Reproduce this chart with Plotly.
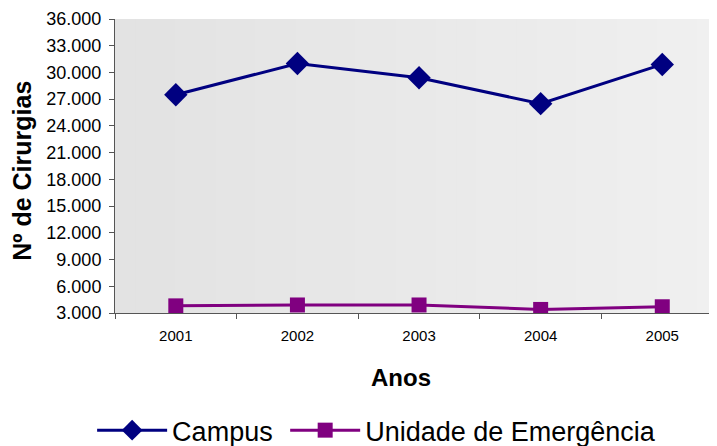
import plotly.graph_objects as go

# data
anos = ["2001", "2002", "2003", "2004", "2005"]
campus = [27500, 31000, 29400, 26500, 30900]
unidade_emergencia = [3800, 3900, 3900, 3400, 3700]

y_ticks = list(range(3000, 36001, 3000))

FONT = "Arial, Liberation Sans, sans-serif"

fig = go.Figure()

# non-breaking space widens the gap between the two legend entries a little
fig.add_trace(go.Scatter(
    x=anos, y=campus, name="Campus\u00a0", mode="lines+markers",
    line=dict(color="#000080", width=3),
    marker=dict(symbol="diamond", size=18, color="#000080"),
))
fig.add_trace(go.Scatter(
    x=anos, y=unidade_emergencia, name="Unidade de Emergência", mode="lines+markers",
    line=dict(color="#800080", width=3),
    marker=dict(symbol="square", size=15, color="#800080"),
))

# light gray gradient behind the plot area
n_steps = 30
for i in range(n_steps):
    t = i / (n_steps - 1)
    c = int(227 + (240 - 227) * t)
    fig.add_shape(
        type="rect", xref="x domain", yref="y domain",
        x0=i / n_steps, x1=(i + 1) / n_steps + 0.002, y0=0, y1=1,
        fillcolor=f"rgb({c},{c},{c})", line_width=0, layer="below",
    )

# axis titles as annotations so they can sit where the original puts them
fig.add_annotation(
    text="<b>Anos</b>", xref="paper", yref="paper", x=0.475, y=-0.221,
    xanchor="center", yanchor="middle", showarrow=False, font=dict(size=24),
)
fig.add_annotation(
    text="<b>Nº de Cirurgias</b>", xref="paper", yref="paper", x=-0.155, y=0.483,
    xanchor="center", yanchor="middle", textangle=-90, showarrow=False,
    font=dict(size=25),
)

# the page adds an 8px body margin, so the figure is sized to fit the window
fig.update_layout(
    width=709, height=438,
    margin=dict(l=107, r=0, t=11, b=133, autoexpand=False),
    paper_bgcolor="white", plot_bgcolor="rgba(0,0,0,0)",
    font=dict(family=FONT, color="black"),
    separators=",.",
    showlegend=True,
    legend=dict(
        orientation="h", x=-0.038, xanchor="left", y=-0.4, yanchor="middle",
        font=dict(size=27), itemwidth=70,
        bgcolor="rgba(0,0,0,0)", tracegroupgap=0,
    ),
)

fig.update_xaxes(
    type="category", range=[-0.5, 4.45], automargin=False,
    showline=True, linecolor="#555", linewidth=1,
    ticks="outside", ticklen=5, tickcolor="#555", tickson="boundaries",
    ticklabelstandoff=9,
    showgrid=False, zeroline=False,
    tickfont=dict(size=15),
)
fig.update_yaxes(
    range=[3000, 36000], tickvals=y_ticks, tickformat=",.0f", automargin=False,
    showline=True, linecolor="#555", linewidth=1,
    ticks="outside", ticklen=5, tickcolor="#555",
    ticklabelstandoff=4,
    showgrid=False, zeroline=False,
    tickfont=dict(size=18),
)

fig.write_html("out.html")
